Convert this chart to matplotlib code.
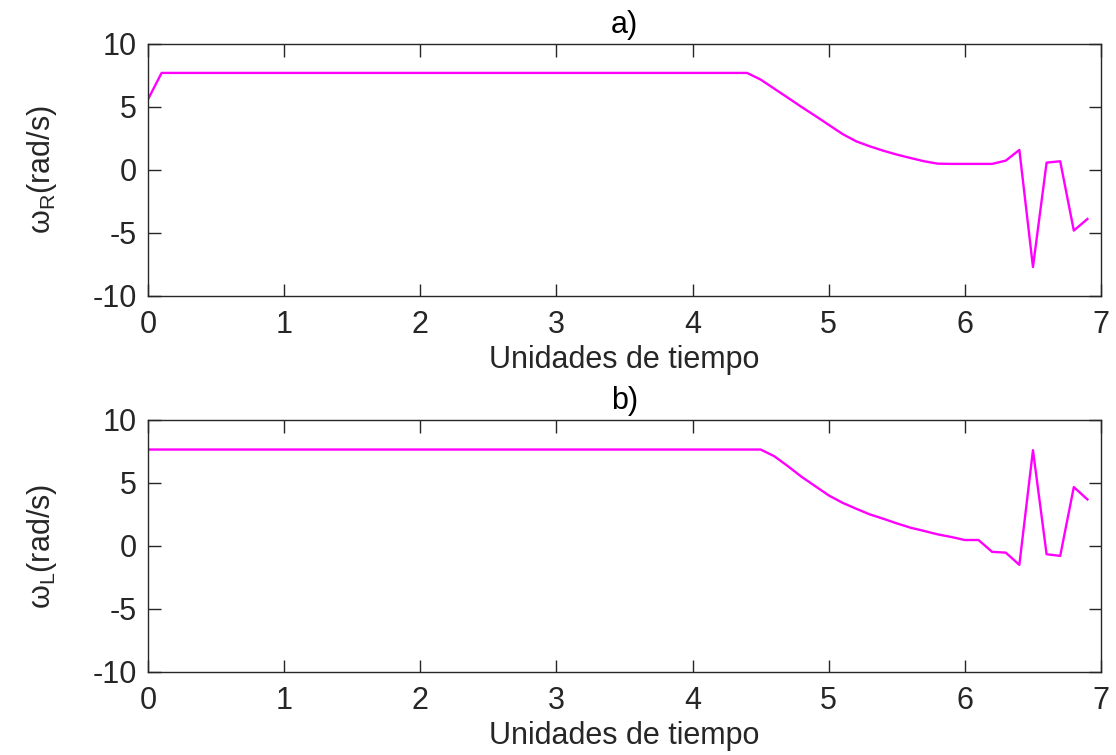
import matplotlib.pyplot as plt
import numpy as np

plt.rcParams['font.family'] = ['Liberation Sans', 'DejaVu Sans']
plt.rcParams['mathtext.fontset'] = 'custom'
plt.rcParams['mathtext.rm'] = 'Liberation Sans'
plt.rcParams['mathtext.it'] = 'Liberation Sans'
plt.rcParams['axes.unicode_minus'] = False

# time axis, sampled every 0.1
t = np.round(np.arange(0, 7.0, 0.1), 1)

# a) right wheel speed
w_r_head = [5.6]
w_r_flat = [7.7] * 44          # t = 0.1 .. 4.4
w_r_tail = [7.17, 6.45, 5.73, 5.0, 4.3, 3.58, 2.86, 2.28, 1.88, 1.53,
            1.22, 0.95, 0.69, 0.5, 0.48, 0.48, 0.48, 0.48, 0.74, 1.59,
            -7.7, 0.58, 0.69, -4.81, -3.89]
w_r = w_r_head + w_r_flat + w_r_tail

# b) left wheel speed
w_l_flat = [7.65] * 46         # t = 0 .. 4.5
w_l_tail = [7.12, 6.33, 5.49, 4.75, 4.01, 3.43, 2.96, 2.51, 2.16, 1.79,
            1.45, 1.19, 0.92, 0.71, 0.47, 0.47, -0.47, -0.53, -1.5, 7.6,
            -0.66, -0.79, 4.67, 3.69]
w_l = w_l_flat + w_l_tail

titles = ['a)', 'b)']
ylabels = [r'$\mathregular{\omega_R}$(rad/s)', r'$\mathregular{\omega_L}$(rad/s)']
series = [w_r, w_l]

fig = plt.figure(figsize=(11.16, 7.55), dpi=100)
positions = [[0.1326, 0.608, 0.854, 0.3338], [0.1326, 0.110, 0.854, 0.3338]]
fs = 22

for pos, title, ylab, y in zip(positions, titles, ylabels, series):
    ax = fig.add_axes(pos)
    ax.plot(t[:len(y)], y, color='#FF00FF', linewidth=1.7)
    ax.set_xlim(0, 7)
    ax.set_ylim(-10, 10)
    ax.set_xticks(range(0, 8))
    ax.set_yticks([-10, -5, 0, 5, 10])
    ax.tick_params(direction='in', length=9, width=1, top=True, right=True,
                   labelsize=fs, colors='#262626')
    ax.tick_params(axis='x', pad=10)
    ax.tick_params(axis='y', pad=8)
    for sp in ax.spines.values():
        sp.set_color('#262626')
        sp.set_linewidth(1)
    ax.set_title(title, fontsize=fs, pad=8)
    ax.set_xlabel('Unidades de tiempo', fontsize=fs, color='#262626', labelpad=4)
    ax.set_ylabel(ylab, fontsize=fs, color='#262626', labelpad=24)

plt.savefig('out.png', dpi=100)
